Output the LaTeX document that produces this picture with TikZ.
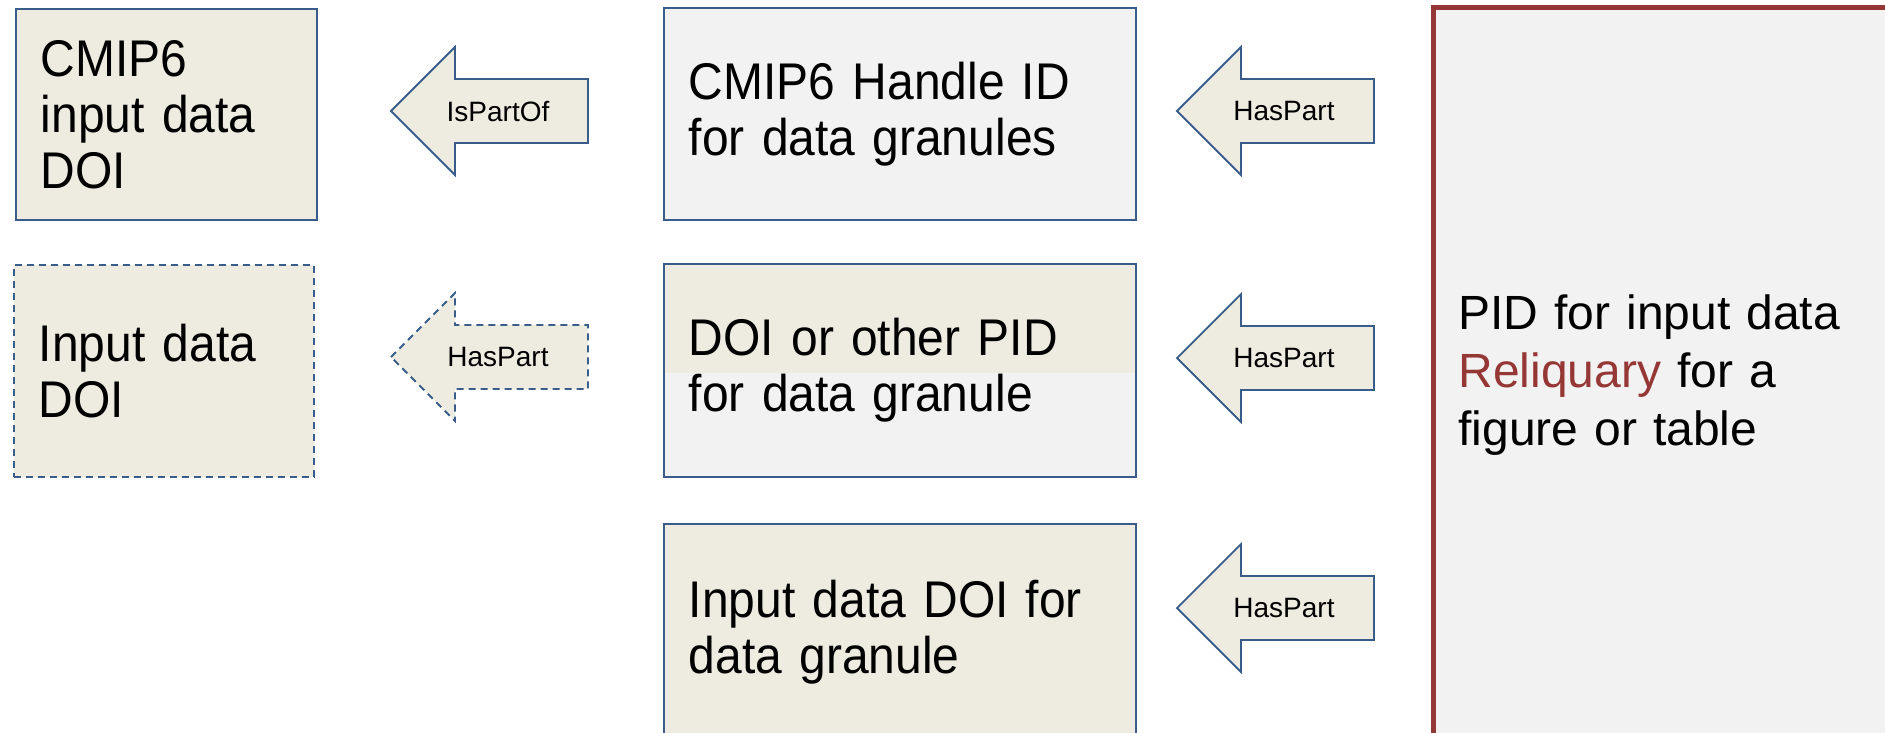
\documentclass[tikz,border=0pt]{standalone}
\usepackage{fontspec}
\setmainfont{Liberation Sans}
\newfontfamily\tallfont[FakeStretch=0.93]{Liberation Sans}
\usetikzlibrary{calc}
\definecolor{tanfill}{HTML}{EEECE1}
\definecolor{lgray}{HTML}{F2F2F2}
\definecolor{bord}{HTML}{385D8A}
\definecolor{relred}{HTML}{953735}
\newcommand{\blkarrow}[5]{%
  \draw[arrowshape,#4] (#2,#3) -- ++(64,-64) -- ++(0,32) -- ++(133,0) -- ++(0,64) -- ++(-133,0) -- ++(0,32) -- cycle;
  \node[lbl] (#1) at (#2+107,#3) {#5};
}
\tikzset{
  box/.style={draw=bord, line width=1.8pt, anchor=north west, inner xsep=25pt, inner ysep=0pt,
    align=left, font=\tallfont\fontsize{51.6}{56}\selectfont},
  arrowshape/.style={draw=bord, line width=1.8pt, fill=tanfill, line join=miter},
  lbl/.style={font=\fontsize{28}{32}\selectfont, inner sep=0pt},
  dashedline/.style={dash pattern=on 7pt off 5pt},
}
\begin{document}
\begin{tikzpicture}[x=1pt,y=-1pt]
\useasboundingbox (0,0) rectangle (1885,732);
\clip (0,0) rectangle (1885,732);
% left column
\node[box, fill=tanfill, minimum width=301pt, minimum height=211pt, text width=251pt] (a) at (15,8)
  {CMIP6\\input data\\DOI};
\node[box, fill=tanfill, dashedline, minimum width=300pt, minimum height=212pt, text width=250pt] (b) at (13,264)
  {Input data\\DOI};
% middle column
\node[box, fill=lgray, minimum width=472pt, minimum height=212pt, text width=422pt] (c) at (663,7)
  {CMIP6 Handle ID\\for data granules};
\fill[tanfill] (663,263) rectangle (1135,373);
\fill[lgray] (663,373) rectangle (1135,476);
\node[box, minimum width=472pt, minimum height=213pt, text width=422pt] (d) at (663,263)
  {DOI or other PID\\for data granule};
\node[box, fill=tanfill, minimum width=472pt, minimum height=217pt, text width=422pt] (e) at (663,523)
  {Input data DOI for\\data granule};
% right box
\node[box, draw=relred, line width=5pt, fill=lgray, minimum width=480pt, minimum height=736pt, text width=430pt,
  font=\fontsize{48}{58}\selectfont] (f) at (1431,5)
  {PID for input data\\\textcolor{relred}{Reliquary} for a\\figure or table};
% block arrows
\blkarrow{l1}{391}{111}{}{IsPartOf}
\blkarrow{l2}{391}{357}{dashedline}{HasPart}
\blkarrow{r1}{1177}{111}{}{HasPart}
\blkarrow{r2}{1177}{358}{}{HasPart}
\blkarrow{r3}{1177}{608}{}{HasPart}
\end{tikzpicture}
\end{document}
